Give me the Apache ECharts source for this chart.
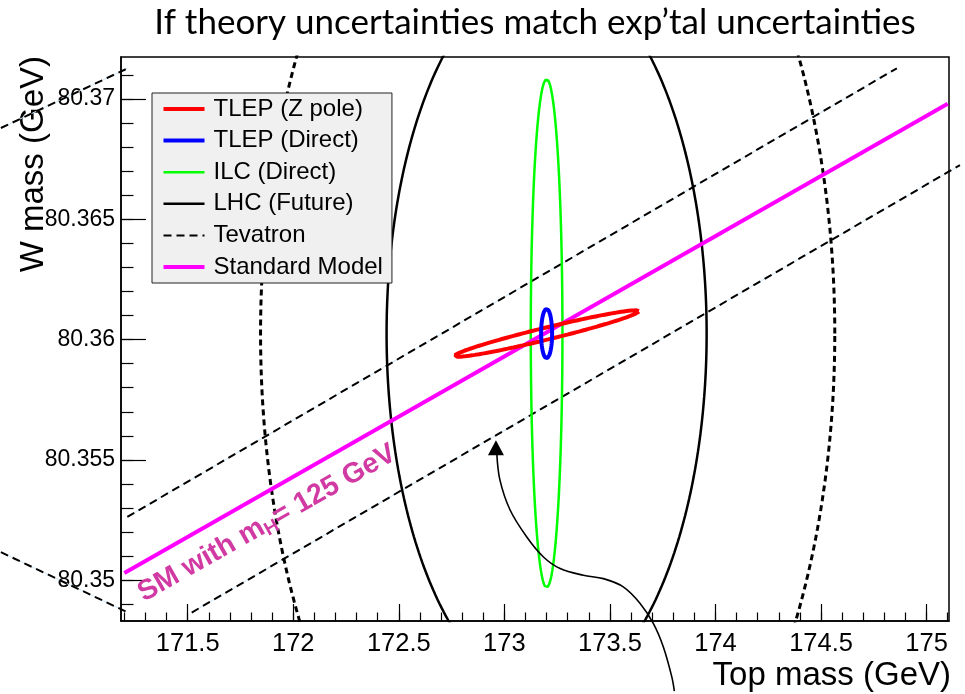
<!DOCTYPE html>
<html><head><meta charset="utf-8">
<script src="https://cdn.jsdelivr.net/npm/echarts@6/dist/echarts.min.js"></script>
<style>html,body{margin:0;padding:0;background:#fff}#c{width:965px;height:694px}</style>
</head><body><div id="c"></div>
<script>
// ---- axes ----
const xTickLabels = [171.5, 172, 172.5, 173, 173.5, 174, 174.5, 175];
const yTickLabels = [80.35, 80.355, 80.36, 80.365, 80.37];
const xRange = [171.184, 175.106];
const yRange = [80.34831, 80.37174];
const xMinorStep = 0.1;
const yMinorStep = 0.001;

// ---- Standard Model line (mH = 125 GeV) ----
const smX = [171.2, 175.1];
const smY = [80.3503, 80.3698];

// ---- contours: [centre mt, centre mW, half-width mt, half-height mW, correlation] ----
const tlepZpole  = [173.2, 80.36025, 0.437, 0.000966, 0.964];
const tlepDirect = [173.2, 80.36025, 0.026, 0.00103, 0];
const ilcDirect  = [173.2, 80.36026, 0.075, 0.01056, 0];
const lhcFuture  = [173.2, 80.36025, 0.758, 0.0151, 0];
const tevatronEl = [173.205, 80.36025, 1.36, 0.0237, 0];

// ---- Tevatron dashed lines ----
const tevUpperX = [171.214, 174.859];
const tevUpperY = [80.352635, 80.371272];
const tevLowerX = [171.519, 175.158];
const tevLowerY = [80.348662, 80.36725];
const tevOuterAX = [170.615, 171.216];
const tevOuterAY = [80.36879, 80.371272];
const tevOuterBX = [170.615, 171.211];
const tevOuterBY = [80.35117, 80.348687];

// ---- annotation arrow ----
const arrowX = [172.964, 172.979, 173.027, 173.106, 173.185, 173.264, 173.374, 173.469, 173.563, 173.643, 173.706, 173.753, 173.793, 173.805];
const arrowY = [80.35527, 80.35416, 80.35292, 80.3518, 80.35097, 80.35049, 80.35021, 80.35007, 80.34973, 80.34904, 80.3482, 80.34723, 80.34599, 80.34540];
const arrowTip = [172.960, 80.35582];

function pairs(xs, ys) { return xs.map((x, i) => [x, ys[i]]); }
function ellipse(p) {
  const [cx, cy, sx, sy, rho] = p, out = [];
  const r2 = Math.sqrt(1 - rho * rho);
  for (let i = 0; i <= 360; i++) {
    const t = i * Math.PI / 180;
    out.push([cx + sx * Math.cos(t), cy + sy * (rho * Math.cos(t) + r2 * Math.sin(t))]);
  }
  return out;
}
function steps(lo, hi, st) {
  const out = [];
  for (let v = Math.ceil(lo / st - 1e-9); v * st <= hi + 1e-12; v++) out.push(+(v * st).toFixed(6));
  return out;
}

// layout of the frame
const W = 965, H = 694, GL = 121, GR = 16, GT = 57, GB = 73;
// a second, canvas-wide coordinate system with the same scale (for marks drawn outside the frame)
const xPerPx = (xRange[1] - xRange[0]) / (W - GL - GR);
const yPerPx = (yRange[1] - yRange[0]) / (H - GT - GB);
const xFull = [xRange[0] - GL * xPerPx, xRange[1] + GR * xPerPx];
const yFull = [yRange[0] - GB * yPerPx, yRange[1] + GT * yPerPx];

const FONT = 'Liberation Sans, Arial, Helvetica, sans-serif';
const chart = echarts.init(document.getElementById('c'), null, { renderer: 'canvas' });

const dashA = { type: [8, 5], width: 2, color: '#000' };
const dashArc = { type: [6, 4], width: 3, color: '#000' };
const pale = { width: 1, color: '#cfe6f6', type: 'solid' };

function lineSeries(name, data, lineStyle, extra) {
  return Object.assign({
    type: 'line', name, data, symbol: 'none', showSymbol: false,
    lineStyle, itemStyle: { color: lineStyle.color }, animation: false, silent: true
  }, extra || {});
}
const OUT = { xAxisIndex: 2, yAxisIndex: 2, clip: false };

const option = {
  animation: false,
  grid: [
    { left: GL, right: GR, top: GT, bottom: GB, show: true, borderColor: '#000', borderWidth: 1.5 },
    { left: 0, right: 0, top: 0, bottom: 0, show: false }
  ],
  xAxis: [
    { type: 'value', min: xRange[0], max: xRange[1], position: 'bottom', gridIndex: 0,
      axisLine: { show: true, onZero: false, lineStyle: { color: '#000', width: 1.5 } },
      axisTick: { show: true, inside: true, length: 17, customValues: xTickLabels, lineStyle: { color: '#000', width: 1.2 } },
      axisLabel: { show: true, customValues: xTickLabels, margin: 10, fontSize: 25.5, fontFamily: FONT, color: '#000' },
      splitLine: { show: false } },
    { type: 'value', min: xRange[0], max: xRange[1], position: 'bottom', gridIndex: 0,
      axisLine: { show: false },
      axisTick: { show: true, inside: true, length: 8.5, customValues: steps(xRange[0], xRange[1], xMinorStep), lineStyle: { color: '#000', width: 1.2 } },
      axisLabel: { show: false }, splitLine: { show: false } },
    { type: 'value', min: xFull[0], max: xFull[1], gridIndex: 1, show: false }
  ],
  yAxis: [
    { type: 'value', min: yRange[0], max: yRange[1], position: 'left', gridIndex: 0,
      axisLine: { show: true, onZero: false, lineStyle: { color: '#000', width: 1.5 } },
      axisTick: { show: true, inside: true, length: 25, customValues: yTickLabels, lineStyle: { color: '#000', width: 1.2 } },
      axisLabel: { show: true, customValues: yTickLabels, margin: 6, fontSize: 23, fontFamily: FONT, color: '#000' },
      splitLine: { show: false } },
    { type: 'value', min: yRange[0], max: yRange[1], position: 'left', gridIndex: 0,
      axisLine: { show: false },
      axisTick: { show: true, inside: true, length: 12.5, customValues: steps(yRange[0], yRange[1], yMinorStep), lineStyle: { color: '#000', width: 1.2 } },
      axisLabel: { show: false }, splitLine: { show: false } },
    { type: 'value', min: yFull[0], max: yFull[1], gridIndex: 1, show: false }
  ],
  legend: {
    data: ['TLEP (Z pole)', 'TLEP (Direct)', 'ILC (Direct)', 'LHC (Future)', 'Tevatron', 'Standard Model'],
    orient: 'vertical', left: 152, top: 93,
    padding: [4, 9, 4, 9.5],
    itemGap: 7.6, itemWidth: 41, itemHeight: 24,
    backgroundColor: '#f0f0f0', borderColor: '#222', borderWidth: 1,
    selectedMode: false,
    itemStyle: { opacity: 0 },
    lineStyle: { width: 'inherit', type: 'inherit' },
    textStyle: { fontFamily: FONT, fontSize: 24, color: '#000', lineHeight: 24, padding: [0, 0, 0, 4] },
    z: 10
  },
  series: [
    lineSeries('tevPale1', pairs(tevUpperX, tevUpperY), pale, OUT),
    lineSeries('tevPale2', pairs(tevLowerX, tevLowerY), pale, OUT),
    lineSeries('tevPale3', pairs(tevOuterAX, tevOuterAY), pale, OUT),
    lineSeries('tevPale4', pairs(tevOuterBX, tevOuterBY), pale, OUT),
    lineSeries('Tevatron', pairs(tevUpperX, tevUpperY), dashA, OUT),
    lineSeries('Tevatron', pairs(tevLowerX, tevLowerY), dashA, OUT),
    lineSeries('Tevatron', pairs(tevOuterAX, tevOuterAY), dashA, OUT),
    lineSeries('Tevatron', pairs(tevOuterBX, tevOuterBY), dashA, OUT),
    lineSeries('Tevatron', ellipse(tevatronEl), dashArc, { clip: true }),
    lineSeries('LHC (Future)', ellipse(lhcFuture), { width: 2.5, color: '#000' }, { clip: true }),
    lineSeries('ILC (Direct)', ellipse(ilcDirect), { width: 2.5, color: '#00ff00' }),
    lineSeries('Standard Model', pairs(smX, smY), { width: 4, color: '#ff00ff' }),
    lineSeries('TLEP (Z pole)', ellipse(tlepZpole), { width: 4, color: '#ff0000' }),
    lineSeries('TLEP (Direct)', ellipse(tlepDirect), { width: 4, color: '#0000ff' }),
    lineSeries('arrow', pairs(arrowX, arrowY), { width: 1.6, color: '#000' }, Object.assign({ smooth: 0.35 }, OUT)),
    { type: 'scatter', name: 'arrowHead', data: [arrowTip], symbol: 'triangle', symbolSize: [16, 15],
      symbolOffset: [0, '50%'], itemStyle: { color: '#000', opacity: 1 }, clip: false, silent: true, animation: false }
  ],
  graphic: [
    { type: 'text', x: 535, y: 23, silent: true,
      style: { text: 'If theory uncertainties match exp\u2019tal uncertainties', fontFamily: 'Lato, Open Sans, sans-serif', fontSize: 35, fill: '#000', align: 'center', verticalAlign: 'middle' } },
    { type: 'text', x: 34, y: 56, rotation: Math.PI / 2, silent: true,
      style: { text: 'W mass (GeV)', fontFamily: FONT, fontSize: 33, fill: '#000', align: 'right', verticalAlign: 'middle' } },
    { type: 'text', x: 951, y: 676, silent: true,
      style: { text: 'Top mass (GeV)', fontFamily: FONT, fontSize: 33, fill: '#000', align: 'right', verticalAlign: 'middle' } },
    { type: 'text', x: 148, y: 609, rotation: 29.5 * Math.PI / 180, silent: true, z: 20,
      style: { text: '{a|SM with m}{b|H}{a|= 125 GeV}', fill: '#d13aa3', align: 'left', verticalAlign: 'bottom',
        rich: {
          a: { fontFamily: FONT, fontSize: 28.5, fontWeight: 'bold', fill: '#d13aa3', lineHeight: 32 },
          b: { fontFamily: FONT, fontSize: 19, fontWeight: 'bold', fill: '#d13aa3', lineHeight: 16, verticalAlign: 'bottom' }
        } } }
  ]
};
chart.setOption(option);
</script>
</body></html>
